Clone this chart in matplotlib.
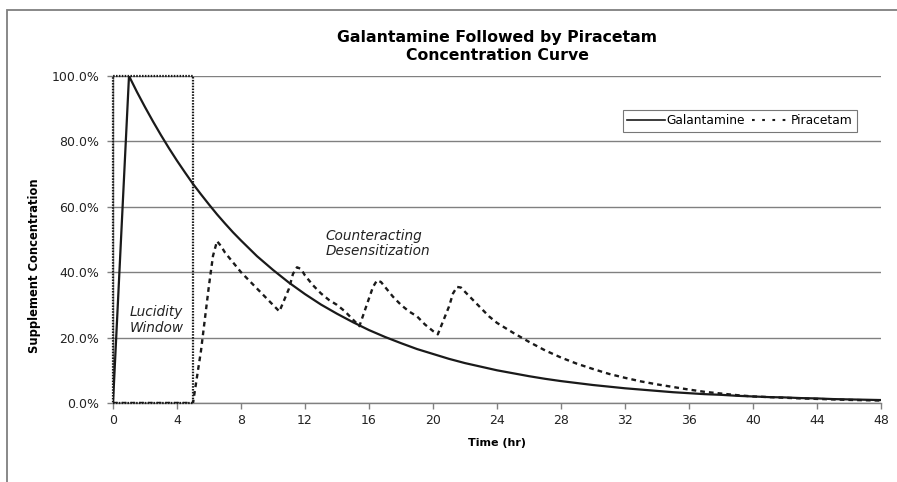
import matplotlib
matplotlib.use("Agg")
import matplotlib.pyplot as plt
from matplotlib.patches import Rectangle
from matplotlib.ticker import FuncFormatter

# ---- data ----
galantamine_t = [0, 1, 1.5, 2, 2.5, 3, 3.5, 4, 4.5, 5, 5.5, 6, 6.5, 7, 7.5, 8,
                 9, 10, 11, 12, 13, 14, 15, 16, 17, 18, 19, 20, 21, 22, 23, 24,
                 25, 26, 27, 28, 29, 30, 31, 32, 33, 34, 35, 36, 37, 38, 39, 40,
                 41, 42, 43, 44, 45, 46, 47, 48]
galantamine_v = [0, 100, 95.1, 90.5, 86.1, 81.9, 77.9, 74.1, 70.5, 67.0, 63.8,
                 60.7, 57.7, 54.9, 52.2, 49.7,
                 44.9, 40.7, 36.8, 33.3, 30.1, 27.3, 24.7, 22.3, 20.2, 18.3,
                 16.5, 15.0, 13.5, 12.2, 11.1, 10.0, 9.1, 8.2, 7.4, 6.7, 6.1,
                 5.5, 5.0, 4.5, 4.1, 3.7, 3.3, 3.0, 2.7, 2.5, 2.2,
                 2.0, 1.8, 1.7, 1.5, 1.4, 1.2, 1.1, 1.0, 0.9]

piracetam_t = [0, 1, 2, 3, 4, 5, 5.5, 6, 6.25, 6.5, 6.75, 7, 7.5, 8, 8.5, 9,
               9.5, 10, 10.4, 11, 11.25, 11.5, 11.75, 12, 12.5, 13, 13.5, 14,
               14.5, 15, 15.4, 16, 16.25, 16.5, 16.75, 17, 17.5, 18, 18.5, 19,
               19.5, 20, 20.3, 21, 21.25, 21.5, 21.75, 22, 22.5, 23, 23.5, 24,
               25, 26, 27, 28, 29, 30, 31, 32, 33, 34, 35, 36, 37, 38, 39, 40,
               41, 42, 43, 44, 45, 46, 47, 48]
piracetam_v = [0, 0, 0, 0, 0, 0, 16, 36, 45, 49.5, 48, 46, 43, 40, 37.5, 35,
               32.5, 30, 28, 35, 39.5, 41.5, 41, 39, 36, 33.5, 31.5, 30,
               28, 25.5, 23.5, 32, 35.5, 37.5, 37, 35.5, 32.5, 30, 28, 26.5,
               24, 22, 21, 29.5, 33.5, 35.5, 35.3, 34, 31.5, 29, 26.5, 24.5,
               21.5, 18.7, 16.1, 13.9, 12.0, 10.4, 8.9, 7.7, 6.6, 5.7, 4.9,
               4.1, 3.4, 2.9, 2.4, 2.0, 1.8, 1.6, 1.4, 1.25, 1.1, 0.95, 0.85, 0.75]

window_start, window_end = 0, 5
x_ticks = list(range(0, 49, 4))
y_ticks = [0, 20, 40, 60, 80, 100]

title = "Galantamine Followed by Piracetam\nConcentration Curve"
FONT = "DejaVu Sans"
plt.rcParams["font.family"] = FONT

W, H = 897, 482
fig = plt.figure(figsize=(W / 100, H / 100), dpi=100)

# outer chart frame (clipped on right/bottom like the reference)
fig.patches.append(Rectangle((7 / W, -0.1), 1.2, (H - 10) / H + 0.1,
                             transform=fig.transFigure, fill=False,
                             edgecolor="#7f7f7f", linewidth=1.3))

ax = fig.add_axes([113 / W, 1 - 403 / H, (881 - 113) / W, (403 - 76) / H])
ax.set_xlim(0, 48)
ax.set_ylim(0, 100)

for y in y_ticks:
    ax.axhline(y, color="#808080", linewidth=1.0, zorder=1)

ax.plot(galantamine_t, galantamine_v, color="#1a1a1a", linewidth=1.6,
        label="Galantamine", zorder=3, solid_joinstyle="round")
ax.plot(piracetam_t, piracetam_v, color="#1a1a1a", linewidth=1.7,
        linestyle=(0, (2.0, 1.7)), label="Piracetam", zorder=3)

ax.add_patch(Rectangle((window_start, 0), window_end - window_start, 100,
                       fill=False, edgecolor="#1a1a1a", linewidth=1.6,
                       linestyle=(0, (0.7, 0.6)), zorder=4, clip_on=False))

for s in ["top", "right"]:
    ax.spines[s].set_visible(False)
for s in ["left", "bottom"]:
    ax.spines[s].set_color("#808080")
    ax.spines[s].set_linewidth(1.0)

ax.set_xticks(x_ticks)
ax.set_yticks(y_ticks)
ax.yaxis.set_major_formatter(FuncFormatter(lambda v, p: f"{v:.1f}%"))
ax.tick_params(axis="both", colors="#808080", length=4, width=1.0,
               labelcolor="#222222", labelsize=9)
ax.tick_params(axis="y", pad=6)
ax.tick_params(axis="x", pad=4)

ax.set_xlabel("Time (hr)", fontsize=8, fontweight="bold", labelpad=8)
fig.text(35 / W, 1 - 266 / H, "Supplement Concentration", rotation=90,
         fontsize=8.3, fontweight="bold", ha="center", va="center")

fig.text(497 / W, 1 - 46.5 / H, title, fontsize=11.3, fontweight="bold",
         ha="center", va="center", linespacing=1.25)

ax.text(1.05, 25.3, "Lucidity\nWindow", fontsize=9.8, style="italic",
        ha="left", va="center", color="#222222", linespacing=1.15, zorder=5)
ax.text(13.3, 48.8, "Counteracting\nDesensitization", fontsize=9.8,
        style="italic", ha="left", va="center", color="#222222",
        linespacing=1.15, zorder=5)

leg = ax.legend(loc="upper left", bbox_to_anchor=((623 - 113) / (881 - 113),
                1 - (110 - 76) / (403 - 76)), ncol=2, fontsize=8.8,
                frameon=True, fancybox=False, edgecolor="#555555",
                handlelength=3.1, handletextpad=0.1, columnspacing=0.55,
                borderpad=0.35, borderaxespad=0)
leg.get_frame().set_linewidth(0.8)
leg_lines = leg.get_lines()
leg_lines[0].set_linewidth(1.2)
leg_lines[1].set_linewidth(1.5)
leg_lines[1].set_linestyle((0, (1.3, 3.6)))

fig.savefig("out.png", dpi=100, facecolor="white")
